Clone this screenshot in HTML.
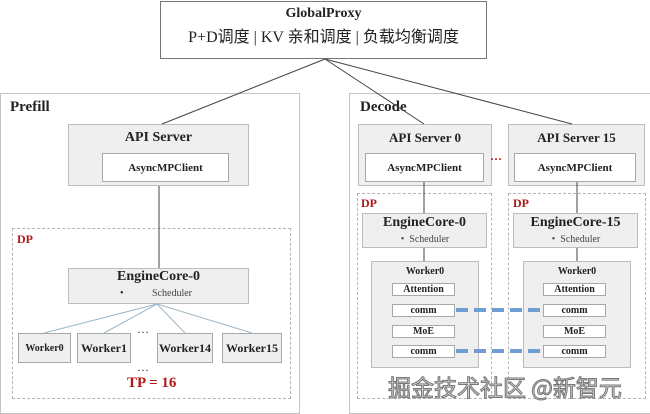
<!DOCTYPE html>
<html><head><meta charset="utf-8"><style>
body{margin:0;width:650px;height:414px;background:#fff;position:relative;overflow:hidden;font-family:"Liberation Serif","Noto Serif CJK SC",serif;}
.a{position:absolute;box-sizing:border-box;}
.g{background:#efefef;border:1px solid #bdbdbd;}
.w{background:#fff;border:1px solid #a8a8a8;display:flex;align-items:center;justify-content:center;font-weight:bold;color:#222;}
.t{position:absolute;font-weight:bold;color:#222;white-space:nowrap;}
.dp{border:1px dashed #b5b5b5;}
.red{color:#b01818;}
svg{position:absolute;left:0;top:0;}
</style></head><body>
<div class="a" style="left:160px;top:1px;width:327px;height:58px;border:1px solid #777;background:#fff"></div>
<div class="t" style="left:160px;width:327px;text-align:center;top:6px;font-size:14px">GlobalProxy</div>
<div class="t" style="left:160px;width:327px;text-align:center;top:23px;font-size:16px;font-weight:normal;font-family:'Liberation Serif','Noto Sans CJK SC',serif">P+D调度 | KV 亲和调度 | 负载均衡调度</div>

<div class="a" style="left:0;top:93px;width:300px;height:321px;border:1px solid #c4c4c4"></div>
<div class="a" style="left:349px;top:93px;width:302px;height:321px;border:1px solid #c4c4c4"></div>
<div class="t" style="left:10px;top:99px;font-size:15px">Prefill</div>
<div class="t" style="left:360px;top:99px;font-size:15px">Decode</div>

<div class="a g" style="left:68px;top:124px;width:181px;height:62px"></div>
<div class="t" style="left:68px;width:181px;text-align:center;top:130px;font-size:14px">API Server</div>
<div class="a w" style="left:102px;top:153px;width:127px;height:29px;font-size:11px">AsyncMPClient</div>
<div class="a dp" style="left:12px;top:228px;width:279px;height:171px"></div>
<div class="t red" style="left:17px;top:232px;font-size:12px">DP</div>
<div class="a g" style="left:68px;top:268px;width:181px;height:36px"></div>
<div class="t" style="left:68px;width:181px;text-align:center;top:269px;font-size:14px">EngineCore-0</div>
<div class="t" style="left:120px;top:288px;font-size:10px;font-weight:normal">•</div>
<div class="t" style="left:152px;top:288px;font-size:10px;font-weight:normal;color:#444">Scheduler</div>
<div class="a g w" style="left:18px;top:333px;width:53px;height:30px;font-size:10px;background:#efefef">Worker0</div>
<div class="a g w" style="left:77px;top:333px;width:54px;height:30px;font-size:12px;background:#efefef">Worker1</div>
<div class="a g w" style="left:157px;top:333px;width:56px;height:30px;font-size:12px;background:#efefef">Worker14</div>
<div class="a g w" style="left:222px;top:333px;width:60px;height:30px;font-size:12px;background:#efefef">Worker15</div>
<div class="t" style="left:137px;top:322px;font-size:12px;font-weight:normal">…</div>
<div class="t" style="left:137px;top:360px;font-size:12px;font-weight:normal">…</div>
<div class="t red" style="left:127px;top:375px;font-size:15px">TP = 16</div>

<div class="a g" style="left:358px;top:124px;width:134px;height:62px"></div>
<div class="t" style="left:358px;width:134px;text-align:center;top:130px;font-size:13px">API Server 0</div>
<div class="a w" style="left:365px;top:153px;width:119px;height:29px;font-size:11px">AsyncMPClient</div>
<div class="a g" style="left:508px;top:124px;width:137px;height:62px"></div>
<div class="t" style="left:508px;width:137px;text-align:center;top:130px;font-size:13px">API Server 15</div>
<div class="a w" style="left:514px;top:153px;width:122px;height:29px;font-size:11px">AsyncMPClient</div>
<div class="t red" style="left:490px;top:152px;font-size:12px">···</div>

<div class="a dp" style="left:357px;top:193px;width:135px;height:206px"></div>
<div class="a dp" style="left:508px;top:193px;width:138px;height:206px"></div>
<div class="t red" style="left:361px;top:196px;font-size:12px">DP</div>
<div class="t red" style="left:513px;top:196px;font-size:12px">DP</div>

<div class="a g" style="left:362px;top:213px;width:125px;height:35px"></div>
<div class="t" style="left:362px;width:125px;text-align:center;top:215px;font-size:14px">EngineCore-0</div>
<div class="t" style="left:370px;width:110px;text-align:center;top:234px;font-size:10px;font-weight:normal;color:#444">•&nbsp; Scheduler</div>
<div class="a g" style="left:513px;top:213px;width:125px;height:35px"></div>
<div class="t" style="left:513px;width:125px;text-align:center;top:215px;font-size:14px">EngineCore-15</div>
<div class="t" style="left:521px;width:110px;text-align:center;top:234px;font-size:10px;font-weight:normal;color:#444">•&nbsp; Scheduler</div>

<div class="a g" style="left:371px;top:261px;width:108px;height:107px"></div>
<div class="t" style="left:371px;width:108px;text-align:center;top:266px;font-size:10px">Worker0</div>
<div class="a w" style="left:392px;top:283px;width:63px;height:13px;font-size:10px">Attention</div>
<div class="a w" style="left:392px;top:304px;width:63px;height:13px;font-size:10px">comm</div>
<div class="a w" style="left:392px;top:325px;width:63px;height:13px;font-size:10px">MoE</div>
<div class="a w" style="left:392px;top:345px;width:63px;height:13px;font-size:10px">comm</div>

<div class="a g" style="left:523px;top:261px;width:108px;height:107px"></div>
<div class="t" style="left:523px;width:108px;text-align:center;top:266px;font-size:10px">Worker0</div>
<div class="a w" style="left:543px;top:283px;width:63px;height:13px;font-size:10px">Attention</div>
<div class="a w" style="left:543px;top:304px;width:63px;height:13px;font-size:10px">comm</div>
<div class="a w" style="left:543px;top:325px;width:63px;height:13px;font-size:10px">MoE</div>
<div class="a w" style="left:543px;top:345px;width:63px;height:13px;font-size:10px">comm</div>

<svg width="650" height="414">
<g stroke="#444" stroke-width="1" fill="none">
<line x1="325" y1="59" x2="162" y2="124"/>
<line x1="325" y1="59" x2="424" y2="124"/>
<line x1="325" y1="59" x2="572" y2="124"/>
<line x1="159" y1="186" x2="159" y2="268"/>
<line x1="424" y1="182" x2="424" y2="213"/>
<line x1="424" y1="248" x2="424" y2="261"/>
<line x1="577" y1="182" x2="577" y2="213"/>
<line x1="577" y1="248" x2="577" y2="261"/>
</g>
<g stroke="#9fb8c8" stroke-width="1">
<line x1="157" y1="304" x2="44" y2="333"/>
<line x1="157" y1="304" x2="104" y2="333"/>
<line x1="157" y1="304" x2="185" y2="333"/>
<line x1="157" y1="304" x2="252" y2="333"/>
</g>
<g stroke="#6f9fd2" stroke-width="4" stroke-dasharray="12 6">
<line x1="456" y1="310" x2="543" y2="310"/>
<line x1="456" y1="351" x2="543" y2="351"/>
</g>
</svg>
<div class="t" style="left:388px;top:369px;font-size:23px;font-weight:normal;color:#d8d8d8;font-family:'Noto Sans CJK SC',sans-serif;-webkit-text-stroke:1px #777">掘金技术社区 @新智元</div>
</body></html>
